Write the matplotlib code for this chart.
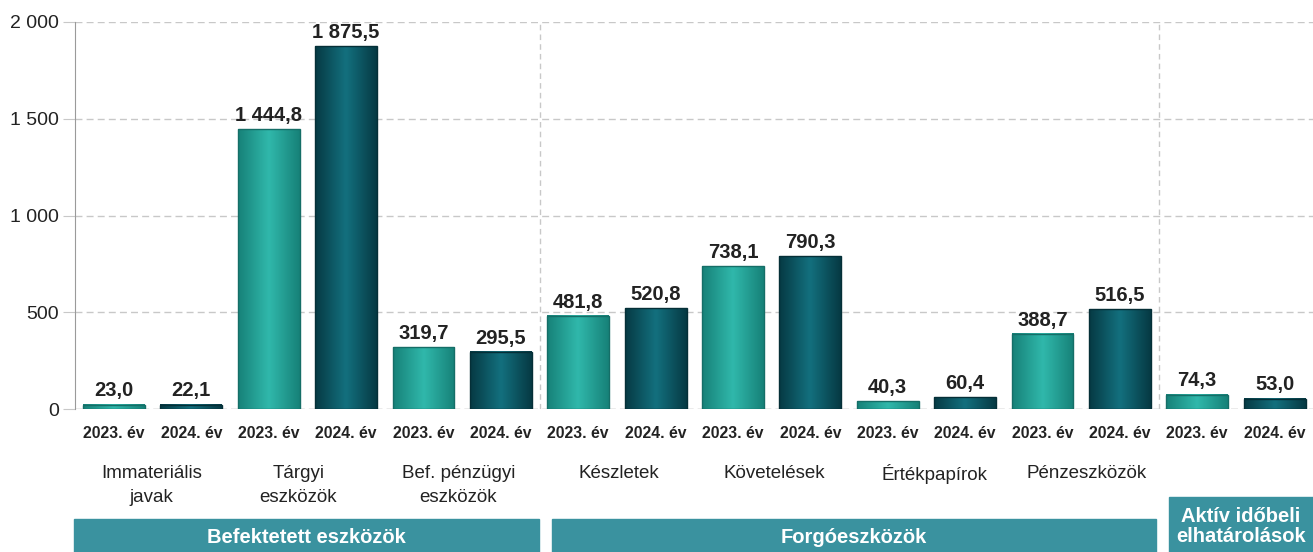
import matplotlib as mpl
mpl.use('Agg')
import matplotlib.pyplot as plt
import numpy as np
from matplotlib.patches import Rectangle
from matplotlib.colors import LinearSegmentedColormap

plt.rcParams['font.family'] = ['Liberation Sans', 'DejaVu Sans']

# data
categories = [['Immateriális', 'javak'], ['Tárgyi', 'eszközök'], ['Bef. pénzügyi', 'eszközök'],
              ['Készletek'], ['Követelések'], ['Értékpapírok'], ['Pénzeszközök'], []]
cat_x = [0.49, 2.38, 4.45, 6.53, 8.53, 10.61, 12.57, 14.5]
years = ['2023. év', '2024. év']
values_2023 = [23.0, 1444.8, 319.7, 481.8, 738.1, 40.3, 388.7, 74.3]
values_2024 = [22.1, 1875.5, 295.5, 520.8, 790.3, 60.4, 516.5, 53.0]
groups = ['Befektetett eszközök', 'Forgóeszközök', 'Aktív időbeli\nelhatárolások']
yticks = [0, 500, 1000, 1500, 2000]
ytick_labels = ['0', '500', '1 000', '1 500', '2 000']

def fmt(v):
    s = '{:,.1f}'.format(v)
    return s.replace(',', ' ').replace('.', ',')

col23 = ['#178279', '#30b8ab', '#178279']
col24 = ['#063a44', '#13707e', '#063a44']
cmap23 = LinearSegmentedColormap.from_list('c23', col23)
cmap24 = LinearSegmentedColormap.from_list('c24', col24)

fig = plt.figure(figsize=(13.13, 5.52), dpi=100)
ax = fig.add_axes([75.3/1313, 143/552, 1238/1313, 387/552])

n = len(categories)
x = []
vals = []
cms = []
edge = []
for i in range(n):
    x += [2*i, 2*i+1]
    vals += [values_2023[i], values_2024[i]]
    cms += [cmap23, cmap24]
    edge += ['#156e67', '#052f37']

w = 0.8
grad = np.linspace(0, 1, 64).reshape(1, -1)
for xi, v, cm, ec in zip(x, vals, cms, edge):
    ax.imshow(grad, cmap=cm, aspect='auto', extent=(xi-w/2, xi+w/2, 0, v), zorder=3)
    ax.add_patch(Rectangle((xi-w/2, 0), w, v, fill=False, ec=ec, lw=1.0, zorder=4))
    ax.text(xi, v + 22, fmt(v), ha='center', va='bottom', fontsize=14.5,
            fontweight='bold', color='#222222', zorder=5)

ax.set_xlim(-0.5, 2*n - 0.5)
ax.set_ylim(0, 2000)
ax.set_yticks(yticks)
ax.set_yticklabels(ytick_labels, fontsize=14, color='#222222')
ax.set_xticks([])
ax.yaxis.grid(True, ls=(0, (5, 3)), color='#c8c8c8', lw=1.0)
ax.set_axisbelow(True)
for s in ['top', 'right', 'bottom']:
    ax.spines[s].set_visible(False)
ax.spines['left'].set_color('#9a9a9a')
ax.tick_params(axis='y', length=9, color='#c8c8c8', pad=3)
ax.axhline(0, color='#c8c8c8', lw=1.0, ls=(0, (5, 3)), zorder=2)

# group separators
for sx in [5.5, 13.5]:
    ax.axvline(sx, color='#c8c8c8', lw=1.0, ls=(0, (4, 3)), zorder=1)

tr = ax.get_xaxis_transform()
for i, xi in enumerate(x):
    ax.text(xi, (409 - 433) / 387, years[i % 2], transform=tr, ha='center', va='center',
            fontsize=11.3, fontweight='bold', color='#222222')
for c, cx in zip(categories, cat_x):
    for j, line in enumerate(c):
        ax.text(cx, (409 - 472 - 23*j) / 387, line, transform=tr, ha='center',
                va='center_baseline', fontsize=13.5, color='#222222')

# group bands
band_col = '#3a929f'
bands = [(74, 539, 519), (552, 1156, 519), (1169, 1313, 497)]
for (x0, x1, y0), g in zip(bands, groups):
    fig.patches.append(Rectangle((x0/1313, 0), (x1-x0)/1313, (552-y0)/552,
                                 transform=fig.transFigure, color=band_col, zorder=1))
    fig.text((x0+x1)/2/1313, (552-y0)/2/552 - 2/552, g, ha='center', va='center',
             color='white', fontsize=14.5, fontweight='bold', linespacing=1.1)

fig.savefig('out.png', dpi=100)
